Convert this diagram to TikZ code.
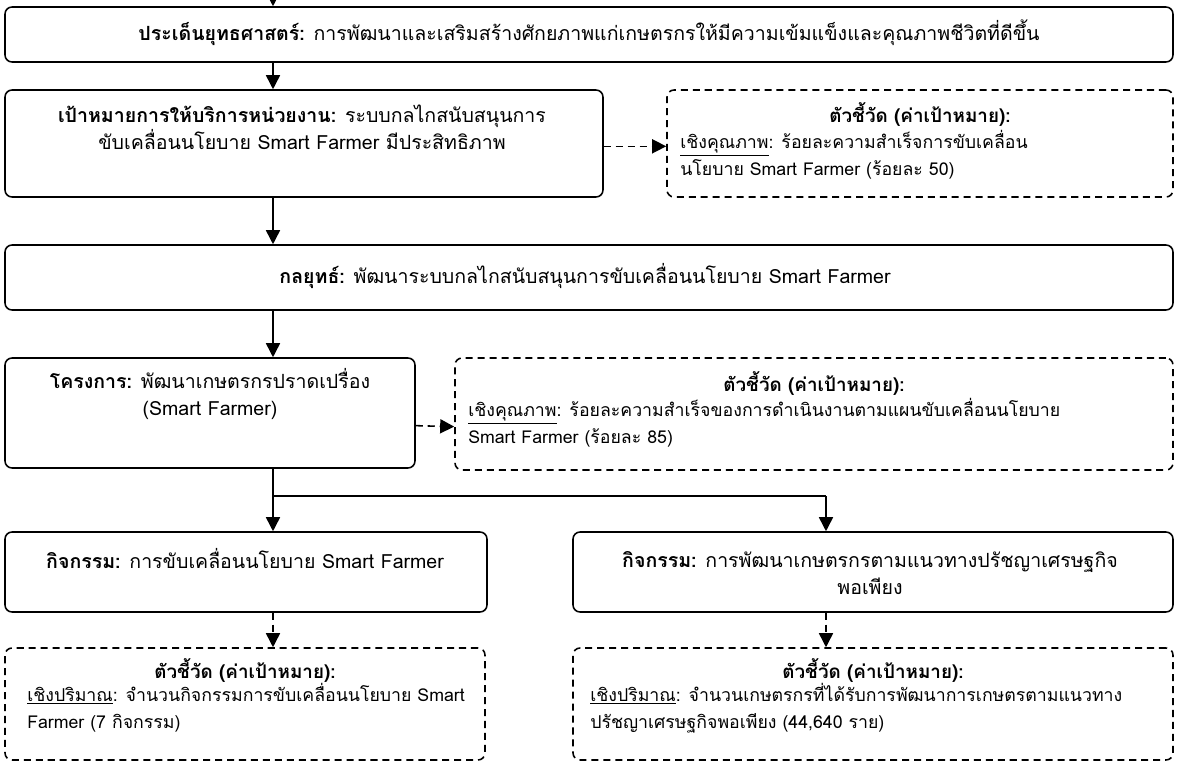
\documentclass[tikz,border=0pt]{standalone}
\usepackage{fontspec}
\setmainfont[Script=Thai]{Loma}
\usetikzlibrary{arrows.meta,fit,positioning}

\tikzset{
  block/.style={draw, line width=1.1pt, rounded corners=5pt, inner sep=0pt},
  kpi/.style={block, dash pattern=on 5pt off 3.5pt},
  label/.style={font=\fontsize{13.9}{19}\selectfont, inner sep=0pt, align=center, anchor=base},
  title/.style={label, font=\fontsize{13.4}{19}\selectfont\bfseries},
  body/.style={label, font=\fontsize{12.6}{19}\selectfont, align=left, anchor=base west},
  flow/.style={line width=1.1pt, -{Triangle[width=10pt,length=10pt]}},
  dflow/.style={flow, dash pattern=on 5pt off 3.5pt},
}

\begin{document}
\begin{tikzpicture}[x=0.025cm, y=-0.025cm]
  \useasboundingbox (0,0) rectangle (1179,763);

  % Blocks
  \node[block, fit={(5,7) (1173,62)}] (issue) {};
  \node[block, fit={(5,90) (603,197)}] (goal) {};
  \node[kpi, fit={(667,90) (1173,197)}] (goalkpi) {};
  \node[block, fit={(5,245) (1173,310)}] (strat) {};
  \node[block, fit={(5,358) (415,468)}] (proj) {};
  \node[kpi, fit={(455,358) (1173,470)}] (projkpi) {};
  \node[block, fit={(5,532) (487,612)}] (actone) {};
  \node[block, fit={(573,532) (1173,612)}] (acttwo) {};
  \node[kpi, fit={(5,648) (485,760)}] (kpione) {};
  \node[kpi, fit={(573,648) (1173,760)}] (kpitwo) {};

  % Texts (base = last line)
  \node[label] (issuetxt) at (589,40) {\textbf{ประเด็นยุทธศาสตร์:} การพัฒนาและเสริมสร้างศักยภาพแก่เกษตรกรให้มีความเข้มแข็งและคุณภาพชีวิตที่ดีขึ้น};
  \node[label] (goaltxt) at (302,149) {\textbf{เป้าหมายการให้บริการหน่วยงาน:} ระบบกลไกสนับสนุนการ\\ขับเคลื่อนนโยบาย Smart Farmer มีประสิทธิภาพ};
  \node[title] (goalkpititle) at (920,122) {ตัวชี้วัด (ค่าเป้าหมาย):};
  \node[body] (goalkpitxt) at (680,175) {\underline{เชิงคุณภาพ}: ร้อยละความสำเร็จการขับเคลื่อน\\นโยบาย Smart Farmer (ร้อยละ 50)};
  \node[label] (strattxt) at (585,283) {\textbf{กลยุทธ์:} พัฒนาระบบกลไกสนับสนุนการขับเคลื่อนนโยบาย Smart Farmer};
  \node[label] (projtxt) at (210,415) {\textbf{โครงการ:} พัฒนาเกษตรกรปราดเปรื่อง\\(Smart Farmer)};
  \node[title] (projkpititle) at (814,391) {ตัวชี้วัด (ค่าเป้าหมาย):};
  \node[body] (projkpitxt) at (468,443) {\underline{เชิงคุณภาพ}: ร้อยละความสำเร็จของการดำเนินงานตามแผนขับเคลื่อนนโยบาย\\Smart Farmer (ร้อยละ 85)};
  \node[label] (actonetxt) at (245,568) {\textbf{กิจกรรม:} การขับเคลื่อนนโยบาย Smart Farmer};
  \node[label] (acttwotxt) at (870,594) {\textbf{กิจกรรม:} การพัฒนาเกษตรกรตามแนวทางปรัชญาเศรษฐกิจ\\พอเพียง};
  \node[title] (kpionetitle) at (245,678) {ตัวชี้วัด (ค่าเป้าหมาย):};
  \node[body] (kpionetxt) at (27,728) {\underline{เชิงปริมาณ}: จำนวนกิจกรรมการขับเคลื่อนนโยบาย Smart\\Farmer (7 กิจกรรม)};
  \node[title] (kpitwotitle) at (873,678) {ตัวชี้วัด (ค่าเป้าหมาย):};
  \node[body] (kpitwotxt) at (590,728) {\underline{เชิงปริมาณ}: จำนวนเกษตรกรที่ได้รับการพัฒนาการเกษตรตามแนวทาง\\ปรัชญาเศรษฐกิจพอเพียง (44,640 ราย)};

  % Flows
  \coordinate (in) at (273,0);
  \coordinate (fork) at (273,496);
  \coordinate (forkr) at (826,496);
  \draw[flow] (in) -- (in |- issue.north);
  \draw[flow] (issue.south -| in) -- (goal.north -| in);
  \draw[flow] (goal.south -| in) -- (strat.north -| in);
  \draw[flow] (strat.south -| in) -- (proj.north -| in);
  \draw[line width=1.1pt] (proj.south -| fork) -- (fork) -- (forkr);
  \draw[flow] (fork) -- (actone.north -| fork);
  \draw[flow] (forkr) -- (acttwo.north -| forkr);
  \draw[dflow] (actone.south -| fork) -- (kpione.north -| fork);
  \draw[dflow] (acttwo.south -| forkr) -- (kpitwo.north -| forkr);
  \draw[dflow] ([yshift=-2pt]goal.east) -- ([yshift=-2pt]goalkpi.west);
  \draw[dflow] ([yshift=-9pt]proj.east) -- ([yshift=-9pt]projkpi.west);
\end{tikzpicture}
\end{document}
